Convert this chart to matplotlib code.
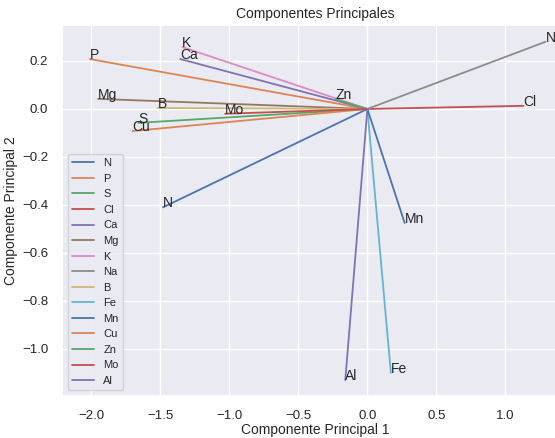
import matplotlib
matplotlib.use("Agg")
import matplotlib.pyplot as plt
import seaborn as sns

# loadings (PC1, PC2)
variables = ['N', 'P', 'S', 'Cl', 'Ca', 'Mg', 'K', 'Na', 'B', 'Fe', 'Mn', 'Cu', 'Zn', 'Mo', 'Al']
pc1 = [-1.48, -2.01, -1.66, 1.13, -1.355, -1.95, -1.34, 1.29, -1.52, 0.17, 0.27, -1.70, -0.23, -1.03, -0.16]
pc2 = [-0.41, 0.208, -0.058, 0.013, 0.208, 0.042, 0.258, 0.28, 0.004, -1.10, -0.475, -0.092, 0.04, -0.02, -1.13]

sns.set_theme(style="darkgrid", palette="deep")
plt.rcParams['font.family'] = ['Liberation Sans', 'DejaVu Sans']

fig = plt.figure(figsize=(5.55, 4.38), dpi=100)
ax = fig.add_axes([0.112, 0.096, 0.912, 0.847])

for name, x, y in zip(variables, pc1, pc2):
    ax.plot([0, x], [0, y], label=name, linewidth=1.3)
    ax.text(x, y, name, fontsize=10, color='#262626')

ax.set_xlim(-2.21, 1.455)
ax.set_ylim(-1.196, 0.35)
ax.set_xticks([-2.0, -1.5, -1.0, -0.5, 0.0, 0.5, 1.0])
ax.tick_params(labelsize=9.5, colors='#262626', pad=4)
ax.set_title('Componentes Principales', fontsize=10, pad=5)
ax.set_xlabel('Componente Principal 1', fontsize=10, labelpad=1)
ax.set_ylabel('Componente Principal 2', fontsize=10, labelpad=3)
ax.legend(loc='lower left', fontsize=8)

fig.savefig('out.png', dpi=100)
